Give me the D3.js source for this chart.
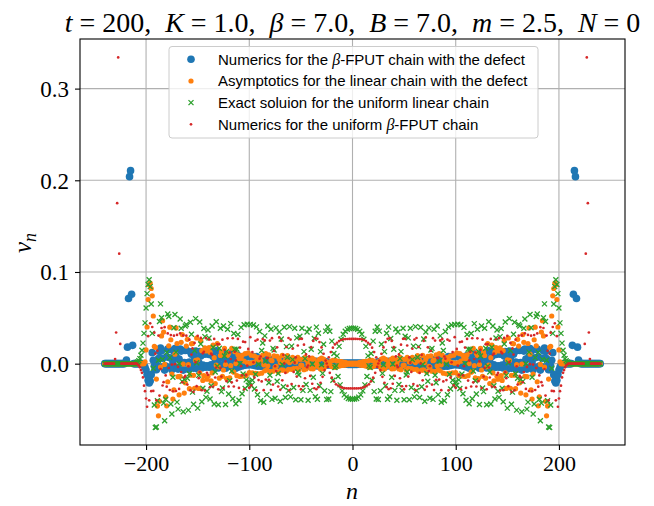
<!DOCTYPE html>
<html><head><meta charset="utf-8">
<script src="https://cdn.jsdelivr.net/npm/d3@7/dist/d3.min.js"></script>
<style>body{margin:0;background:#fff}text{white-space:pre}</style>
</head><body>
<svg id="chart" width="654" height="506"></svg>
<script>
// lattice sites n = -240 ... 240
const sites = d3.range(-240, 241);

// ---- Numerics for the beta-FPUT chain with the defect (blue) ----
const blueLeft = [ // n = -240 .. -1
0,0,0,0,0,0,0,0,0,0,
0,0,0,0,0,0,0,0,0,0,
.0010,.0040,.0180,.0710,.2040,.2105,.0757,.0200,0,0,
0,0,0,0,0,0,0,-.0010,-.0020,-.0040,
-.0070,-.0120,-.0180,-.0210,-.0190,-.0120,.0120,.0036,-.0025,-.0064,
-.0065,-.0020,.0057,.0133,.0170,.0142,.0059,-.0031,-.0070,-.0026,
.0074,.0159,.0155,.0064,-.0041,-.0065,.0019,.0134,.0166,.0077,
-.0042,-.0059,.0050,.0160,.0137,.0006,-.0070,.0011,.0145,.0149,
.0009,-.0060,.0018,.0130,.0104,-.0022,-.0049,.0069,.0139,.0042,
-.0059,.0014,.0133,.0084,-.0046,-.0016,.0120,.0102,-.0038,-.0023,
.0118,.0100,-.0042,-.0012,.0129,.0079,-.0056,.0021,.0140,.0034,
-.0048,.0060,.0098,-.0024,-.0017,.0103,.0045,-.0050,.0054,.0097,
-.0030,-.0004,.0109,.0015,-.0040,.0090,.0059,-.0050,.0059,.0088,
-.0035,.0020,.0075,-.0025,.0004,.0079,-.0017,-.0005,.0080,-.0013,
-.0007,.0080,-.0013,-.0005,.0079,-.0019,.0004,.0077,-.0028,.0019,
.0043,-.0028,.0023,.0031,-.0030,.0039,.0013,-.0022,.0049,-.0010,
-.0002,.0046,-.0027,.0026,.0024,-.0026,.0048,-.0009,0,.0043,
-.0025,.0025,.0004,-.0014,.0034,-.0022,.0019,.0010,-.0017,.0035,
-.0022,.0019,.0008,-.0014,.0034,-.0024,.0026,-.0002,-.0004,.0027,
-.0024,.0034,-.0017,.0015,.0009,-.0014,.0022,-.0025,.0024,-.0018,
.0010,0,-.0009,.0017,-.0023,.0025,-.0024,.0021,-.0015,.0008,
-.0001,-.0007,.0013,-.0018,.0022,-.0015,.0015,-.0014,.0013,-.0011,
.0009,-.0007,.0004,-.0002,-.0001,.0003,-.0005,.0007,-.0005,.0005,
-.0006,.0006,-.0007,.0007,-.0007,.0007,-.0008,.0008,-.0008,.0008];
const blueRight = [ // n = 0 .. 240
-.0008,.0008,-.0008,.0008,-.0008,.0007,-.0007,.0007,-.0007,.0006,
-.0006,.0005,-.0005,.0007,-.0005,.0003,-.0001,-.0002,.0004,-.0007,
.0009,-.0011,.0013,-.0014,.0015,-.0015,.0022,-.0018,.0013,-.0007,
-.0001,.0008,-.0015,.0021,-.0024,.0025,-.0023,.0017,-.0009,0,
.0010,-.0018,.0024,-.0025,.0022,-.0014,.0009,.0015,-.0017,.0034,
-.0024,.0027,-.0004,-.0002,.0026,-.0024,.0034,-.0014,.0008,.0019,
-.0022,.0035,-.0017,.0010,.0019,-.0022,.0034,-.0014,.0004,.0025,
-.0025,.0043,0,-.0009,.0048,-.0026,.0024,.0026,-.0027,.0046,
-.0002,-.0010,.0049,-.0022,.0013,.0039,-.0030,.0031,.0023,-.0028,
.0043,.0019,-.0028,.0077,.0004,-.0019,.0079,-.0005,-.0013,.0080,
-.0007,-.0013,.0080,-.0005,-.0017,.0079,.0004,-.0025,.0075,.0020,
-.0035,.0088,.0059,-.0050,.0059,.0090,-.0040,.0015,.0109,-.0004,
-.0030,.0097,.0054,-.0050,.0045,.0103,-.0017,-.0024,.0098,.0060,
-.0048,.0034,.0140,.0021,-.0056,.0079,.0129,-.0012,-.0042,.0100,
.0118,-.0023,-.0038,.0102,.0120,-.0016,-.0046,.0084,.0133,.0014,
-.0059,.0042,.0139,.0069,-.0049,-.0022,.0104,.0130,.0018,-.0060,
.0009,.0149,.0145,.0011,-.0070,.0006,.0137,.0160,.0050,-.0059,
-.0042,.0077,.0166,.0134,.0019,-.0065,-.0041,.0064,.0155,.0159,
.0074,-.0026,-.0070,-.0031,.0059,.0142,.0170,.0133,.0057,-.0020,
-.0065,-.0064,-.0025,.0036,.0120,-.0120,-.0190,-.0210,-.0180,-.0120,
-.0070,-.0040,-.0020,-.0010,0,0,0,0,0,0,
0,0,0,.0200,.0757,.2105,.2040,.0710,.0180,.0040,
.0010,0,0,0,0,0,0,0,0,0,
0,0,0,0,0,0,0,0,0,0,
0];

// ---- Asymptotics for the linear chain with the defect (orange) ----
const orangeLeft = [
0,0,0,0,0,0,0,0,0,0,
0,0,0,0,0,0,0,0,0,0,
0,0,0,0,0,0,0,0,0,0,
0,0,0,0,0,0,0,0,0,.0020,
.0150,.0400,.0700,.0860,.0880,.0820,.0740,.0520,.0190,.0178,
-.0168,-.0463,-.0569,-.0410,-.0037,.0303,.0469,.0345,-.0008,-.0363,
-.0460,-.0197,.0195,.0398,.0261,-.0114,-.0386,-.0286,.0104,.0390,
.0220,-.0142,-.0340,-.0138,.0233,.0317,-.0004,-.0321,-.0209,.0192,
.0266,-.0011,-.0273,-.0125,.0216,.0220,-.0127,-.0268,.0036,.0280,
.0043,-.0270,-.0101,.0251,.0142,-.0183,-.0131,.0173,.0139,-.0170,
-.0137,.0176,.0125,-.0188,-.0101,.0203,.0065,-.0216,-.0016,.0220,
-.0036,-.0158,.0089,.0125,-.0138,-.0069,.0167,-.0009,-.0162,.0091,
.0113,-.0154,-.0022,.0167,-.0083,-.0093,.0130,.0001,-.0131,.0096,
.0056,-.0140,.0058,.0091,-.0135,.0027,.0109,-.0128,.0010,.0117,
-.0098,.0005,.0092,-.0100,.0014,.0084,-.0106,.0035,.0066,-.0110,
.0063,.0034,-.0104,.0093,-.0013,-.0077,.0110,-.0066,-.0023,.0095,
-.0086,.0039,.0032,-.0082,.0084,-.0037,-.0030,.0080,-.0087,.0049,
.0013,-.0068,.0090,-.0071,.0020,.0038,-.0080,.0089,-.0062,.0012,
.0032,-.0062,.0070,-.0054,.0021,.0018,-.0050,.0068,-.0067,.0047,
-.0016,-.0019,.0048,-.0066,.0069,-.0058,.0035,-.0006,-.0023,.0048,
-.0055,.0060,-.0056,.0044,-.0026,.0005,.0015,-.0034,.0048,-.0057,
.0060,-.0058,.0051,-.0040,.0028,-.0009,-.0001,.0010,-.0019,.0026,
-.0032,.0036,-.0038,.0040,-.0040,.0029,-.0028,.0026,-.0024,.0022,
-.0020,.0018,-.0016,.0014,-.0012,.0007,-.0006,.0005,-.0005,.0005];
const orangeRight = [
-.0005,.0005,-.0005,.0005,-.0006,.0007,-.0012,.0014,-.0016,.0018,
-.0020,.0022,-.0024,.0026,-.0028,.0029,-.0040,.0040,-.0038,.0036,
-.0032,.0026,-.0019,.0010,-.0001,-.0009,.0028,-.0040,.0051,-.0058,
.0060,-.0057,.0048,-.0034,.0015,.0005,-.0026,.0044,-.0056,.0060,
-.0055,.0048,-.0023,-.0006,.0035,-.0058,.0069,-.0066,.0048,-.0019,
-.0016,.0047,-.0067,.0068,-.0050,.0018,.0021,-.0054,.0070,-.0062,
.0032,.0012,-.0062,.0089,-.0080,.0038,.0020,-.0071,.0090,-.0068,
.0013,.0049,-.0087,.0080,-.0030,-.0037,.0084,-.0082,.0032,.0039,
-.0086,.0095,-.0023,-.0066,.0110,-.0077,-.0013,.0093,-.0104,.0034,
.0063,-.0110,.0066,.0035,-.0106,.0084,.0014,-.0100,.0092,.0005,
-.0098,.0117,.0010,-.0128,.0109,.0027,-.0135,.0091,.0058,-.0140,
.0056,.0096,-.0131,.0001,.0130,-.0093,-.0083,.0167,-.0022,-.0154,
.0113,.0091,-.0162,-.0009,.0167,-.0069,-.0138,.0125,.0089,-.0158,
-.0036,.0220,-.0016,-.0216,.0065,.0203,-.0101,-.0188,.0125,.0176,
-.0137,-.0170,.0139,.0173,-.0131,-.0183,.0142,.0251,-.0101,-.0270,
.0043,.0280,.0036,-.0268,-.0127,.0220,.0216,-.0125,-.0273,-.0011,
.0266,.0192,-.0209,-.0321,-.0004,.0317,.0233,-.0138,-.0340,-.0142,
.0220,.0390,.0104,-.0286,-.0386,-.0114,.0261,.0398,.0195,-.0197,
-.0460,-.0363,-.0008,.0345,.0469,.0303,-.0037,-.0410,-.0569,-.0463,
-.0168,.0178,.0190,.0520,.0740,.0820,.0880,.0860,.0700,.0400,
.0150,.0020,0,0,0,0,0,0,0,0,
0,0,0,0,0,0,0,0,0,0,
0,0,0,0,0,0,0,0,0,0,
0,0,0,0,0,0,0,0,0,0,
0];

// ---- Exact solution for the uniform linear chain (green) ----
const greenLeft = [
0,0,0,0,0,0,0,0,0,0,
0,0,0,0,0,0,0,0,0,0,
0,0,0,0,0,0,0,0,0,0,
0,.0010,.0018,.0032,.0055,.0091,.0146,.0224,.0330,.0445,
.0607,.0764,.0864,.0916,.0840,.0650,.0330,-.0050,-.0450,-.0697,
-.0690,-.0404,.0037,.0460,.0652,.0500,.0047,-.0430,-.0622,-.0388,
.0123,.0541,.0514,.0066,-.0440,-.0549,-.0148,.0391,.0537,.0126,
-.0419,-.0496,-.0001,.0487,.0387,-.0193,-.0524,-.0171,.0410,.0428,
-.0159,-.0507,-.0110,.0451,.0320,-.0310,-.0443,.0143,.0491,.0010,
-.0485,-.0128,.0455,.0215,-.0416,-.0268,.0384,.0295,-.0368,-.0300,
.0367,.0280,-.0385,-.0241,.0410,.0180,-.0440,-.0090,.0458,-.0029,
-.0448,.0168,.0386,-.0305,-.0265,.0410,.0084,-.0446,.0133,.0376,
-.0331,-.0186,.0437,-.0080,-.0383,.0329,.0158,-.0437,.0158,.0318,
-.0399,.0000,.0396,-.0328,-.0113,.0424,-.0270,-.0177,.0430,-.0236,
-.0197,.0428,-.0237,-.0181,.0422,-.0276,-.0115,.0401,-.0339,-.0007,
.0350,-.0404,.0143,.0226,-.0420,.0303,.0030,-.0338,.0411,-.0208,
-.0127,.0376,-.0389,.0167,.0150,-.0377,.0390,-.0191,-.0107,.0346,
-.0410,.0270,-.0009,-.0252,.0398,-.0369,.0186,.0070,-.0295,.0404,
-.0362,.0191,.0044,-.0259,.0387,-.0393,.0281,-.0090,-.0123,.0299,
-.0394,.0387,-.0291,.0131,.0055,-.0227,.0346,-.0399,.0378,-.0291,
.0158,-.0003,-.0148,.0275,-.0361,.0399,-.0388,.0331,-.0240,.0131,
-.0011,-.0106,.0211,-.0296,.0355,-.0390,.0400,-.0386,.0354,-.0305,
.0246,-.0180,.0111,-.0042,-.0024,.0085,-.0140,.0189,-.0231,.0267,
-.0297,.0321,-.0340,.0354,-.0365,.0374,-.0380,.0384,-.0386,.0388];
const greenRight = [
-.0388,.0388,-.0386,.0384,-.0380,.0374,-.0365,.0354,-.0340,.0321,
-.0297,.0267,-.0231,.0189,-.0140,.0085,-.0024,-.0042,.0111,-.0180,
.0246,-.0305,.0354,-.0386,.0400,-.0390,.0355,-.0296,.0211,-.0106,
-.0011,.0131,-.0240,.0331,-.0388,.0399,-.0361,.0275,-.0148,-.0003,
.0158,-.0291,.0378,-.0399,.0346,-.0227,.0055,.0131,-.0291,.0387,
-.0394,.0299,-.0123,-.0090,.0281,-.0393,.0387,-.0259,.0044,.0191,
-.0362,.0404,-.0295,.0070,.0186,-.0369,.0398,-.0252,-.0009,.0270,
-.0410,.0346,-.0107,-.0191,.0390,-.0377,.0150,.0167,-.0389,.0376,
-.0127,-.0208,.0411,-.0338,.0030,.0303,-.0420,.0226,.0143,-.0404,
.0350,-.0007,-.0339,.0401,-.0115,-.0276,.0422,-.0181,-.0237,.0428,
-.0197,-.0236,.0430,-.0177,-.0270,.0424,-.0113,-.0328,.0396,.0000,
-.0399,.0318,.0158,-.0437,.0158,.0329,-.0383,-.0080,.0437,-.0186,
-.0331,.0376,.0133,-.0446,.0084,.0410,-.0265,-.0305,.0386,.0168,
-.0448,-.0029,.0458,-.0090,-.0440,.0180,.0410,-.0241,-.0385,.0280,
.0367,-.0300,-.0368,.0295,.0384,-.0268,-.0416,.0215,.0455,-.0128,
-.0485,.0010,.0491,.0143,-.0443,-.0310,.0320,.0451,-.0110,-.0507,
-.0159,.0428,.0410,-.0171,-.0524,-.0193,.0387,.0487,-.0001,-.0496,
-.0419,.0126,.0537,.0391,-.0148,-.0549,-.0440,.0066,.0514,.0541,
.0123,-.0388,-.0622,-.0430,.0047,.0500,.0652,.0460,.0037,-.0404,
-.0690,-.0697,-.0450,-.0050,.0330,.0650,.0840,.0916,.0864,.0764,
.0607,.0445,.0330,.0224,.0146,.0091,.0055,.0032,.0018,.0010,
0,0,0,0,0,0,0,0,0,0,
0,0,0,0,0,0,0,0,0,0,
0,0,0,0,0,0,0,0,0,0,
0];

// ---- Numerics for the uniform beta-FPUT chain (red) ----
const redLeft = [
0,0,0,0,0,0,0,0,0,0,
.0050,.0340,.1750,.3340,.1200,.0215,0,0,0,0,
0,0,0,0,0,0,0,0,0,0,
0,0,-.0010,-.0020,-.0040,-.0070,-.0100,-.0150,-.0240,-.0300,
-.0380,-.0470,.0300,-.0400,.0440,-.0300,.0400,-.0297,.0338,.0109,
-.0400,.0140,.0306,-.0348,-.0059,.0389,-.0238,-.0202,.0398,-.0128,
-.0251,.0330,-.0047,-.0287,.0312,-.0010,-.0301,.0305,-.0006,-.0298,
.0313,-.0035,-.0275,.0331,-.0091,-.0203,.0308,-.0149,-.0134,.0305,
-.0228,-.0029,.0262,-.0291,.0099,.0166,-.0308,.0226,.0016,-.0245,
.0304,-.0158,-.0092,.0281,-.0289,.0113,.0130,-.0293,.0278,-.0100,
-.0122,.0263,-.0256,.0109,.0097,-.0249,.0270,-.0151,-.0042,.0214,
-.0280,.0212,-.0045,-.0141,.0262,-.0266,.0152,.0025,-.0191,.0276,
-.0249,.0122,.0051,-.0203,.0277,-.0249,.0130,.0034,-.0184,.0270,
-.0265,.0176,-.0027,-.0127,.0240,-.0280,.0236,-.0124,-.0022,.0161,
-.0263,.0289,-.0237,.0126,.0015,-.0150,.0250,-.0290,.0263,-.0179,
.0055,.0078,-.0194,.0268,-.0289,.0254,-.0173,.0061,.0064,-.0176,
.0252,-.0288,.0278,-.0228,.0138,-.0028,-.0081,.0178,-.0249,.0286,
-.0285,.0248,-.0182,.0097,.0001,-.0101,.0182,-.0243,.0280,-.0290,
.0263,-.0223,.0163,-.0090,.0011,.0068,-.0140,.0198,-.0244,.0271,
-.0280,.0271,-.0246,.0207,-.0159,.0101,-.0039,-.0020,.0079,-.0134,
.0180,-.0219,.0248,-.0268,.0278,-.0279,.0272,-.0256,.0235,-.0208,
.0177,-.0143,.0107,-.0070,.0034,.0002,-.0036,.0069,-.0100,.0127,
-.0153,.0174,-.0193,.0210,-.0225,.0228,-.0238,.0246,-.0253,.0258,
-.0262,.0265,-.0266,.0268,-.0269,.0269,-.0270,.0270,-.0270,.0270];
const redRight = [
-.0270,.0270,-.0270,.0270,-.0270,.0269,-.0269,.0268,-.0266,.0265,
-.0262,.0258,-.0253,.0246,-.0238,.0228,-.0225,.0210,-.0193,.0174,
-.0153,.0127,-.0100,.0069,-.0036,.0002,.0034,-.0070,.0107,-.0143,
.0177,-.0208,.0235,-.0256,.0272,-.0279,.0278,-.0268,.0248,-.0219,
.0180,-.0134,.0079,-.0020,-.0039,.0101,-.0159,.0207,-.0246,.0271,
-.0280,.0271,-.0244,.0198,-.0140,.0068,.0011,-.0090,.0163,-.0223,
.0263,-.0290,.0280,-.0243,.0182,-.0101,.0001,.0097,-.0182,.0248,
-.0285,.0286,-.0249,.0178,-.0081,-.0028,.0138,-.0228,.0278,-.0288,
.0252,-.0176,.0064,.0061,-.0173,.0254,-.0289,.0268,-.0194,.0078,
.0055,-.0179,.0263,-.0290,.0250,-.0150,.0015,.0126,-.0237,.0289,
-.0263,.0161,-.0022,-.0124,.0236,-.0280,.0240,-.0127,-.0027,.0176,
-.0265,.0270,-.0184,.0034,.0130,-.0249,.0277,-.0203,.0051,.0122,
-.0249,.0276,-.0191,.0025,.0152,-.0266,.0262,-.0141,-.0045,.0212,
-.0280,.0214,-.0042,-.0151,.0270,-.0249,.0097,.0109,-.0256,.0263,
-.0122,-.0100,.0278,-.0293,.0130,.0113,-.0289,.0281,-.0092,-.0158,
.0304,-.0245,.0016,.0226,-.0308,.0166,.0099,-.0291,.0262,-.0029,
-.0228,.0305,-.0134,-.0149,.0308,-.0203,-.0091,.0331,-.0275,-.0035,
.0313,-.0298,-.0006,.0305,-.0301,-.0010,.0312,-.0287,-.0047,.0330,
-.0251,-.0128,.0398,-.0202,-.0238,.0389,-.0059,-.0348,.0306,.0140,
-.0400,.0109,.0338,-.0297,.0400,-.0300,.0440,-.0400,.0300,-.0470,
-.0380,-.0300,-.0240,-.0150,-.0100,-.0070,-.0040,-.0020,-.0010,0,
0,0,0,0,0,0,0,0,0,0,
0,0,0,0,0,.0215,.1200,.3340,.1750,.0340,
.0050,0,0,0,0,0,0,0,0,0,
0];

const xTicks = [-200, -100, 0, 100, 200];
const yTicks = [0.0, 0.1, 0.2, 0.3];
const xDomain = [-264, 264];
const yDomain = [-0.0887, 0.3541];
const legendLabels = [
  ["Numerics for the ", "β", "-FPUT chain with the defect"],
  ["Asymptotics for the linear chain with the defect"],
  ["Exact soluion for the uniform linear chain"],
  ["Numerics for the uniform ", "β", "-FPUT chain"]
];
const titleParts = [["t",1],[" = 200,  ",0],["K",1],[" = 1.0,  ",0],["β",1],[" = 7.0,  ",0],
  ["B",1],[" = 7.0,  ",0],["m",1],[" = 2.5,  ",0],["N",1],[" = 0",0]];

const colors = {blue:"#1f77b4", orange:"#ff7f0e", green:"#2ca02c", red:"#d62728"};
const serif = "'Liberation Serif','Times New Roman',serif";
const sans = "'Liberation Sans',Arial,sans-serif";

const svg = d3.select("#chart");
const L = 80, R = 625, T = 39, B = 445;
const x = d3.scaleLinear().domain(xDomain).range([L, R]);
const y = d3.scaleLinear().domain(yDomain).range([B, T]);

svg.append("rect").attr("width",654).attr("height",506).attr("fill","#fff");

// grid
const grid = svg.append("g").attr("stroke","#b0b0b0").attr("stroke-width",1.1);
xTicks.forEach(t => grid.append("line").attr("x1",x(t)).attr("x2",x(t)).attr("y1",T).attr("y2",B));
yTicks.forEach(t => grid.append("line").attr("x1",L).attr("x2",R).attr("y1",y(t)).attr("y2",y(t)));

function series(left, right){ const v = left.concat(right); return sites.map((n,i)=>({n, v:v[i]})); }
const blue = series(blueLeft, blueRight);
const orange = series(orangeLeft, orangeRight);
const green = series(greenLeft, greenRight);
const red = series(redLeft, redRight);

const rBlue = 3.8, rOrange = 2.6, rRed = 1.35, xs = 2.5;
const plot = svg.append("g");
plot.append("g").selectAll("circle").data(blue).join("circle")
  .attr("cx",d=>x(d.n)).attr("cy",d=>y(d.v)).attr("r",rBlue).attr("fill",colors.blue);
plot.append("g").selectAll("circle").data(orange).join("circle")
  .attr("cx",d=>x(d.n)).attr("cy",d=>y(d.v)).attr("r",rOrange).attr("fill",colors.orange);
const xPath = `M${-xs},${-xs}L${xs},${xs}M${-xs},${xs}L${xs},${-xs}`;
plot.append("g").selectAll("path").data(green).join("path")
  .attr("transform",d=>`translate(${x(d.n)},${y(d.v)})`).attr("d",xPath)
  .attr("stroke",colors.green).attr("stroke-width",1.3).attr("fill","none");
plot.append("g").selectAll("circle").data(red).join("circle")
  .attr("cx",d=>x(d.n)).attr("cy",d=>y(d.v)).attr("r",rRed).attr("fill",colors.red);

// spines
svg.append("rect").attr("x",L).attr("y",T).attr("width",R-L).attr("height",B-T)
  .attr("fill","none").attr("stroke","#000").attr("stroke-width",1.1);

// axes ticks
const xAxis = d3.axisBottom(x).tickValues(xTicks).tickSize(5).tickPadding(4)
  .tickFormat(d => d < 0 ? "\u2212" + Math.abs(d) : String(d));
const gx = svg.append("g").attr("transform",`translate(0,${B})`).call(xAxis);
gx.select(".domain").remove();
gx.selectAll(".tick line").attr("stroke","#000").attr("stroke-width",1.1);
gx.selectAll(".tick text").attr("font-family",serif).attr("font-size",22).attr("fill","#000")
  .attr("dy",null).attr("y",null).attr("dominant-baseline","alphabetic").attr("transform","translate(0,26)");

const yAxis = d3.axisLeft(y).tickValues(yTicks).tickSize(5).tickPadding(6).tickFormat(d3.format(".1f"));
const gy = svg.append("g").attr("transform",`translate(${L},0)`).call(yAxis);
gy.select(".domain").remove();
gy.selectAll(".tick line").attr("stroke","#000").attr("stroke-width",1.1);
gy.selectAll(".tick text").attr("font-family",serif).attr("font-size",23).attr("fill","#000")
  .attr("dy","0.34em").attr("x",-11);

// axis labels
svg.append("text").attr("x",352).attr("y",499).attr("text-anchor","middle")
  .attr("font-family",serif).attr("font-style","italic").attr("font-size",24).text("n");
const yl = svg.append("text").attr("transform","translate(31,243) rotate(-90)").attr("text-anchor","middle")
  .attr("font-family",serif).attr("font-size",25);
yl.append("tspan").attr("font-style","italic").text("v");
yl.append("tspan").attr("font-style","italic").attr("font-size",18).attr("dy",5).text("n");

// title
const title = svg.append("text").attr("x",352.5).attr("y",32).attr("text-anchor","middle")
  .attr("font-family",serif).attr("font-size",24);
titleParts.forEach(p => title.append("tspan").attr("font-style", p[1] ? "italic" : "normal").text(p[0]));
const tw = title.node().getComputedTextLength();
if (tw > 0) title.attr("font-size", 24 * 576 / tw);

// legend
const lg = svg.append("g");
lg.append("rect").attr("x",169).attr("y",46.5).attr("width",369).attr("height",91.5).attr("rx",3)
  .attr("fill","#fff").attr("fill-opacity",0.8).attr("stroke","#cccccc").attr("stroke-width",1);
const rowY = [59.3, 81, 102.6, 124.3];
const mx = 191;
lg.append("circle").attr("cx",mx).attr("cy",rowY[0]).attr("r",rBlue).attr("fill",colors.blue);
lg.append("circle").attr("cx",mx).attr("cy",rowY[1]).attr("r",rOrange).attr("fill",colors.orange);
lg.append("path").attr("transform",`translate(${mx},${rowY[2]})`).attr("d",xPath)
  .attr("stroke",colors.green).attr("stroke-width",1.3).attr("fill","none");
lg.append("circle").attr("cx",mx).attr("cy",rowY[3]).attr("r",rRed).attr("fill",colors.red);
legendLabels.forEach((parts,i) => {
  const t = lg.append("text").attr("x",218).attr("y",rowY[i]+5.3).attr("font-family",sans).attr("font-size",15).attr("fill","#000");
  parts.forEach(p => {
    const s = t.append("tspan").text(p);
    if (p === "β") s.attr("font-family",serif).attr("font-style","italic").attr("font-size",16);
  });
});
</script>
</body></html>
